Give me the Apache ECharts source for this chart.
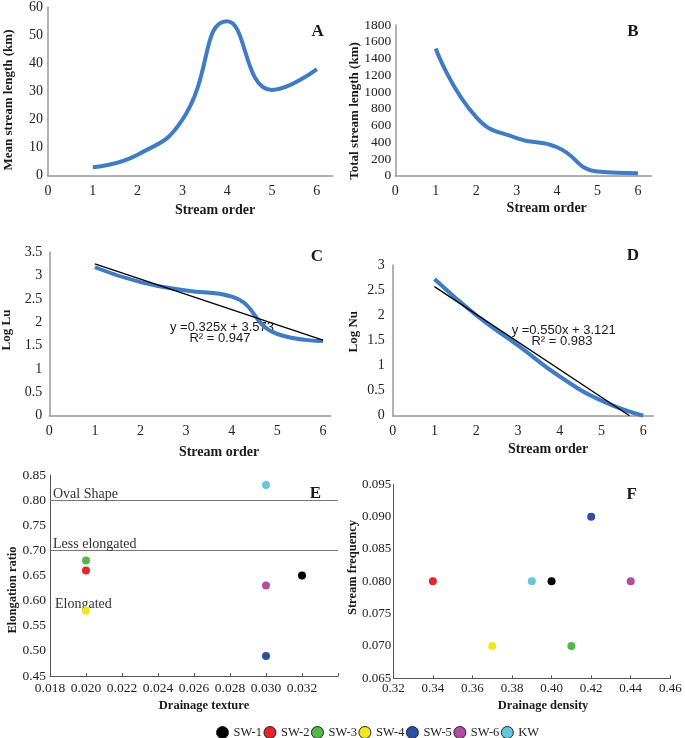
<!DOCTYPE html>
<html>
<head>
<meta charset="utf-8">
<script src="https://cdn.jsdelivr.net/npm/echarts@6/dist/echarts.min.js"></script>
<style>html,body{margin:0;padding:0;background:#fff}#c{width:685px;height:738px}</style>
</head>
<body>
<div id="c"></div>
<script>
// ---- data ----
const streamOrder = [1, 2, 3, 4, 5, 6];
const meanStreamLength = [3, 7.5, 20, 55, 30.5, 38];
const totalStreamLength = [1520, 700, 450, 340, 50, 30];
const logLu = [3.18, 2.86, 2.68, 2.55, 1.75, 1.6];
const logNu = [2.72, 2.0, 1.4, 0.78, 0.3, 0];
const trendLuX = [1, 6];
const trendLuY = [3.25, 1.62];
const trendNuX = [1, 5.67];
const trendNuY = [2.57, 0];
const eqLu = ['y =0.325x + 3.573', 'R² = 0.947'];
const eqNu = ['y =0.550x + 3.121', 'R² = 0.983'];
const basins = ['SW-1', 'SW-2', 'SW-3', 'SW-4', 'SW-5', 'SW-6', 'KW'];
const basinColors = ['#000000', '#e3262b', '#52b848', '#f3e51f', '#2c4fa3', '#b24ea0', '#66c6dc'];
const drainageTexture = [0.032, 0.020, 0.020, 0.020, 0.030, 0.030, 0.030];
const elongationRatio = [0.65, 0.66, 0.68, 0.58, 0.49, 0.63, 0.83];
const drainageDensity = [0.40, 0.34, 0.41, 0.37, 0.42, 0.44, 0.39];
const streamFrequency = [0.080, 0.080, 0.070, 0.070, 0.090, 0.080, 0.080];
const shapeThresholds = [0.80, 0.70];
const shapeLabels = ['Oval Shape', 'Less elongated', 'Elongated'];

// ---- styles ----
const SERIF = '"Liberation Serif", "Times New Roman", serif';
const SANS = '"Liberation Sans", Arial, sans-serif';
const BLUE = '#3f7cc4';
const pair = (xs, ys) => xs.map((x, i) => [x, ys[i]]);

const chart = echarts.init(document.getElementById('c'), null, {renderer: 'canvas'});

function grayAxis(extra) {
  return Object.assign({
    type: 'value',
    axisLine: {show: true, onZero: false, lineStyle: {color: '#999', width: 1.5}},
    axisTick: {show: false},
    splitLine: {show: false},
    axisLabel: {color: '#222', fontFamily: SERIF, fontSize: 14}
  }, extra);
}
function darkAxis(extra) {
  return Object.assign({
    type: 'value',
    axisLine: {show: true, onZero: false, lineStyle: {color: '#555', width: 1}},
    axisTick: {show: true, inside: true, length: 3, lineStyle: {color: '#555'}},
    splitLine: {show: false},
    axisLabel: {color: '#222', fontFamily: SERIF, fontSize: 13}
  }, extra);
}
const intFmt = v => (Math.abs(v - Math.round(v)) < 1e-9 ? String(Math.round(v)) : '');
const plainFmt = v => String(v);

const grids = [
  {left: 48, top: 7.3, width: 285, height: 168.4},      // A
  {left: 395.3, top: 25, width: 256, height: 150.7},     // B
  {left: 49.3, top: 252.3, width: 281.4, height: 163.4}, // C
  {left: 392.7, top: 265, width: 260.6, height: 150.7},  // D
  {left: 50, top: 475, width: 288, height: 201},         // E
  {left: 393.3, top: 484.3, width: 277, height: 194}     // F
];

const xAxes = [
  grayAxis({gridIndex: 0, min: 0, max: 6.36, interval: 1, axisLabel: {color: '#222', fontFamily: SERIF, fontSize: 14, margin: 9, formatter: intFmt}}),
  grayAxis({gridIndex: 1, min: 0, max: 6.33, interval: 1, axisLabel: {color: '#222', fontFamily: SERIF, fontSize: 14, margin: 9, formatter: intFmt}}),
  grayAxis({gridIndex: 2, min: 0, max: 6.17, interval: 1, axisLabel: {color: '#222', fontFamily: SERIF, fontSize: 14, margin: 9, formatter: intFmt}}),
  grayAxis({gridIndex: 3, min: 0, max: 6.24, interval: 1, axisLabel: {color: '#222', fontFamily: SERIF, fontSize: 14, margin: 9, formatter: intFmt}}),
  darkAxis({gridIndex: 4, min: 0.018, max: 0.034, interval: 0.002, axisLabel: {color: '#222', fontFamily: SERIF, fontSize: 13.5, margin: 5, formatter: v => v > 0.0335 ? '' : v.toFixed(3)}}),
  darkAxis({gridIndex: 5, min: 0.32, max: 0.46, interval: 0.02, axisLabel: {color: '#222', fontFamily: SERIF, fontSize: 13, margin: 4, formatter: v => v.toFixed(2)}})
];
const yAxes = [
  grayAxis({gridIndex: 0, min: 0, max: 60, interval: 10, axisLabel: {color: '#222', fontFamily: SERIF, fontSize: 14, margin: 5, formatter: plainFmt}}),
  grayAxis({gridIndex: 1, min: 0, max: 1800, interval: 200, axisLabel: {color: '#222', fontFamily: SERIF, fontSize: 13.5, margin: 4, formatter: plainFmt}}),
  grayAxis({gridIndex: 2, min: 0, max: 3.5, interval: 0.5, axisLabel: {color: '#222', fontFamily: SERIF, fontSize: 14, margin: 7, formatter: plainFmt}}),
  grayAxis({gridIndex: 3, min: 0, max: 3, interval: 0.5, axisLabel: {color: '#222', fontFamily: SERIF, fontSize: 14, margin: 8, formatter: plainFmt}}),
  darkAxis({gridIndex: 4, min: 0.45, max: 0.85, interval: 0.05, axisTick: {show: false}, axisLabel: {color: '#222', fontFamily: SERIF, fontSize: 13.5, margin: 4, formatter: v => v.toFixed(2)}}),
  darkAxis({gridIndex: 5, min: 0.065, max: 0.095, interval: 0.005, axisTick: {show: false}, axisLabel: {color: '#222', fontFamily: SERIF, fontSize: 13, margin: 2, formatter: v => v.toFixed(3)}})
];

const blueLine = (idx, ys) => ({
  type: 'line', xAxisIndex: idx, yAxisIndex: idx, smooth: 0.5, showSymbol: false, symbol: 'none',
  lineStyle: {color: BLUE, width: 4}, data: pair(streamOrder, ys), silent: true, z: 2
});
const trend = (idx, xs, ys) => ({
  type: 'line', xAxisIndex: idx, yAxisIndex: idx, showSymbol: false, symbol: 'none',
  lineStyle: {color: '#000', width: 1.3}, data: pair(xs, ys), silent: true, z: 3
});

const series = [
  blueLine(0, meanStreamLength),
  blueLine(1, totalStreamLength),
  blueLine(2, logLu),
  trend(2, trendLuX, trendLuY),
  blueLine(3, logNu),
  trend(3, trendNuX, trendNuY)
];

// threshold lines in E
series.push({
  type: 'line', xAxisIndex: 4, yAxisIndex: 4, data: [], silent: true,
  markLine: {
    symbol: 'none', silent: true, animation: false,
    lineStyle: {color: '#777', width: 1.2, type: 'solid'},
    label: {show: true, position: 'insideStartTop', distance: [3, -1], color: '#333', fontFamily: SERIF, fontSize: 14,
      formatter: p => p.name},
    data: shapeThresholds.map((v, i) => ({name: shapeLabels[i], yAxis: v}))
  }
});

basins.forEach((b, i) => {
  series.push({
    name: b, type: 'scatter', xAxisIndex: 4, yAxisIndex: 4, symbolSize: 8,
    itemStyle: {color: basinColors[i], opacity: 1},
    data: [[drainageTexture[i], elongationRatio[i]]], z: 5
  });
  series.push({
    name: b, type: 'scatter', xAxisIndex: 5, yAxisIndex: 5, symbolSize: 8,
    itemStyle: {color: basinColors[i], opacity: 1},
    data: [[drainageDensity[i], streamFrequency[i]]], z: 5
  });
});

function txt(x, y, text, font, rot) {
  return {
    type: 'text', x: x, y: y, rotation: rot || 0, silent: true,
    style: {text: text, font: font, fill: '#1a1a1a', align: 'center', verticalAlign: 'middle',
      textAlign: 'center', textVerticalAlign: 'middle'}
  };
}
const R = Math.PI / 2;
const yTitle = 'bold 13px ' + SERIF;
const xTitle = 'bold 14px ' + SERIF;
const letter = 'bold 17px ' + SERIF;
const eqFont = '13px ' + SANS;

const graphic = [
  // panel letters
  txt(317.7, 31.7, 'A', letter), txt(633, 32, 'B', letter),
  txt(317, 257, 'C', letter), txt(633, 256, 'D', letter),
  txt(315.3, 493.3, 'E', letter), txt(631.7, 495, 'F', letter),
  // y titles
  txt(8.5, 100, 'Mean stream length (km)', yTitle, R),
  txt(355, 111, 'Total stream length (km)', yTitle, R),
  txt(7, 330, 'Log Lu', yTitle, R),
  txt(353.5, 331.7, 'Log Nu', yTitle, R),
  txt(13, 590, 'Elongation ratio', 'bold 12.5px ' + SERIF, R),
  txt(353, 567.5, 'Stream frequency', 'bold 12.5px ' + SERIF, R),
  // x titles
  txt(215, 210, 'Stream order', xTitle),
  txt(546.7, 208, 'Stream order', xTitle),
  txt(219, 452, 'Stream order', xTitle),
  txt(548, 449, 'Stream order', xTitle),
  txt(204, 706, 'Drainage texture', 'bold 12.5px ' + SERIF),
  txt(543, 706, 'Drainage density', 'bold 12.5px ' + SERIF),
  // regression equations
  txt(222, 327, eqLu[0], eqFont), txt(220, 338.7, eqLu[1], eqFont),
  txt(563.7, 330, eqNu[0], eqFont), txt(562, 341, eqNu[1], eqFont),
  // shape class label without a line
  {type: 'text', x: 55, y: 604.3, silent: true,
   style: {text: shapeLabels[2], font: '14px ' + SERIF, fill: '#333', align: 'left', verticalAlign: 'middle',
     textAlign: 'left', textVerticalAlign: 'middle'}}
];

chart.setOption({
  animation: false,
  backgroundColor: '#ffffff',
  grid: grids,
  xAxis: xAxes,
  yAxis: yAxes,
  series: series,
  graphic: graphic,
  legend: {
    data: basins.map((b, i) => ({name: b, icon: 'circle',
      itemStyle: {color: basinColors[i], borderColor: '#222', borderWidth: 1}})),
    selectedMode: false, left: 211, top: 721, itemWidth: 12, itemHeight: 12, itemGap: 1.5,
    textStyle: {color: '#222', fontFamily: SERIF, fontSize: 12.5}
  }
});
</script>
</body>
</html>
